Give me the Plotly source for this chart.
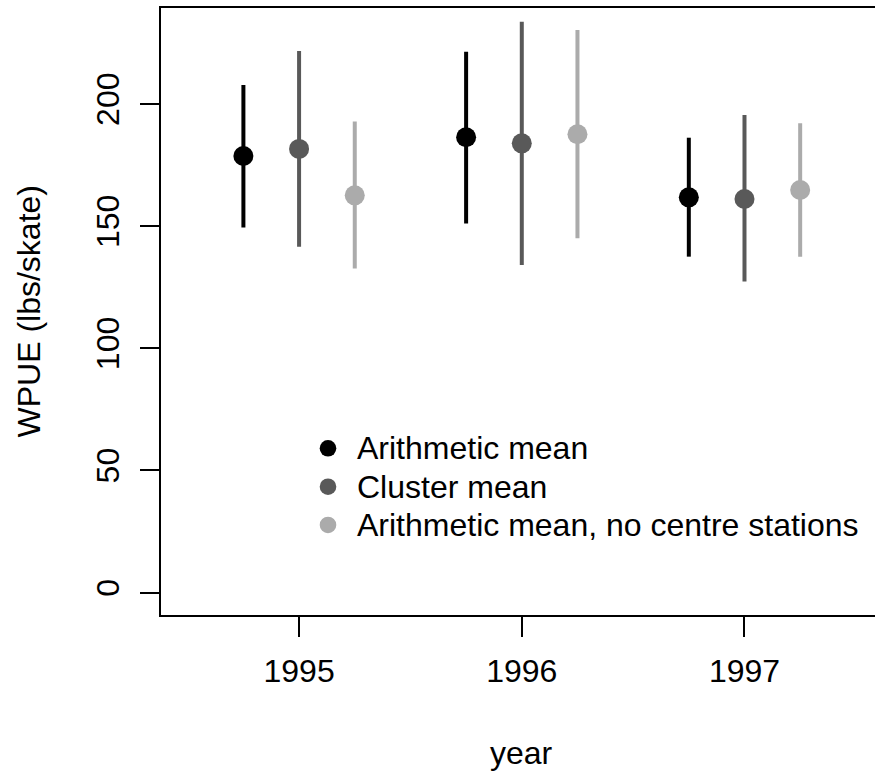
import plotly.graph_objects as go

years = [1995, 1996, 1997]
series_names = ["Arithmetic mean", "Cluster mean", "Arithmetic mean, no centre stations"]
arith_mean = [178.7, 186.4, 161.8]
arith_lo = [149.4, 151.1, 137.5]
arith_hi = [207.8, 221.4, 186.2]
cluster_mean = [181.6, 183.9, 161.1]
cluster_lo = [141.6, 134.1, 127.3]
cluster_hi = [221.7, 233.7, 195.5]
nocentre_mean = [162.6, 187.6, 164.8]
nocentre_lo = [132.7, 145.0, 137.5]
nocentre_hi = [192.8, 230.3, 192.1]

offsets = [-0.25, 0.0, 0.25]
colors = ["#000000", "#595959", "#ABABAB"]
means = [arith_mean, cluster_mean, nocentre_mean]
los = [arith_lo, cluster_lo, nocentre_lo]
his = [arith_hi, cluster_hi, nocentre_hi]

FONT = "Liberation Sans, Arial, sans-serif"
fig = go.Figure()
for name, off, col, m, lo, hi in zip(series_names, offsets, colors, means, los, his):
    fig.add_trace(go.Scatter(
        x=[y + off for y in years], y=m, mode="markers", name=name,
        marker=dict(size=20, color=col), showlegend=False,
        error_y=dict(type="data", symmetric=False,
                     array=[h - v for h, v in zip(hi, m)],
                     arrayminus=[v - l for v, l in zip(m, lo)],
                     color=col, thickness=4, width=0),
    ))

# manual legend (key circles + text), placed in paper coordinates
leg_key_x = 0.2339
leg_text_x = 0.2717
leg_rows = [0.2746, 0.2114, 0.1483]
shapes = []
annotations = []
for name, col, ry in zip(series_names, colors, leg_rows):
    shapes.append(dict(type="circle", xref="paper", yref="paper",
                       xsizemode="pixel", ysizemode="pixel",
                       xanchor=leg_key_x, yanchor=ry,
                       x0=-8.3, x1=8.3, y0=-8.3, y1=8.3,
                       fillcolor=col, line=dict(width=0)))
    annotations.append(dict(text=name, xref="paper", yref="paper",
                            x=leg_text_x, y=ry, xanchor="left", yanchor="middle",
                            showarrow=False, font=dict(size=32)))

annotations += [
    dict(text="year", xref="paper", yref="paper", x=0.505, y=0, yanchor="top",
         yshift=-118, showarrow=False, font=dict(size=32)),
    dict(text="WPUE (lbs/skate)", xref="paper", yref="paper", x=-0.1849, y=0.5,
         xanchor="center", yanchor="middle",
         textangle=-90, showarrow=False, font=dict(size=32)),
]

fig.update_layout(
    width=875, height=772,
    margin=dict(l=161, r=0, t=8, b=157),
    paper_bgcolor="white", plot_bgcolor="white",
    font=dict(family=FONT, size=32, color="black"),
    showlegend=False,
    xaxis=dict(range=[1994.38, 1997.586], tickvals=years, ticktext=[str(y) for y in years],
               showline=True, linecolor="black", linewidth=2, mirror=True,
               ticks="outside", ticklen=20, tickwidth=2, tickcolor="black",
               showgrid=False, zeroline=False, ticklabelstandoff=7),
    yaxis=dict(range=[-9.2, 239.3], tickvals=[0, 50, 100, 150, 200],
               showline=True, linecolor="black", linewidth=2, mirror=False,
               ticks="outside", ticklen=19, tickwidth=2, tickcolor="black",
               showgrid=False, zeroline=False, tickangle=-90, ticklabelstandoff=8),
    shapes=shapes,
    annotations=annotations,
)

fig.write_html("out.html")
